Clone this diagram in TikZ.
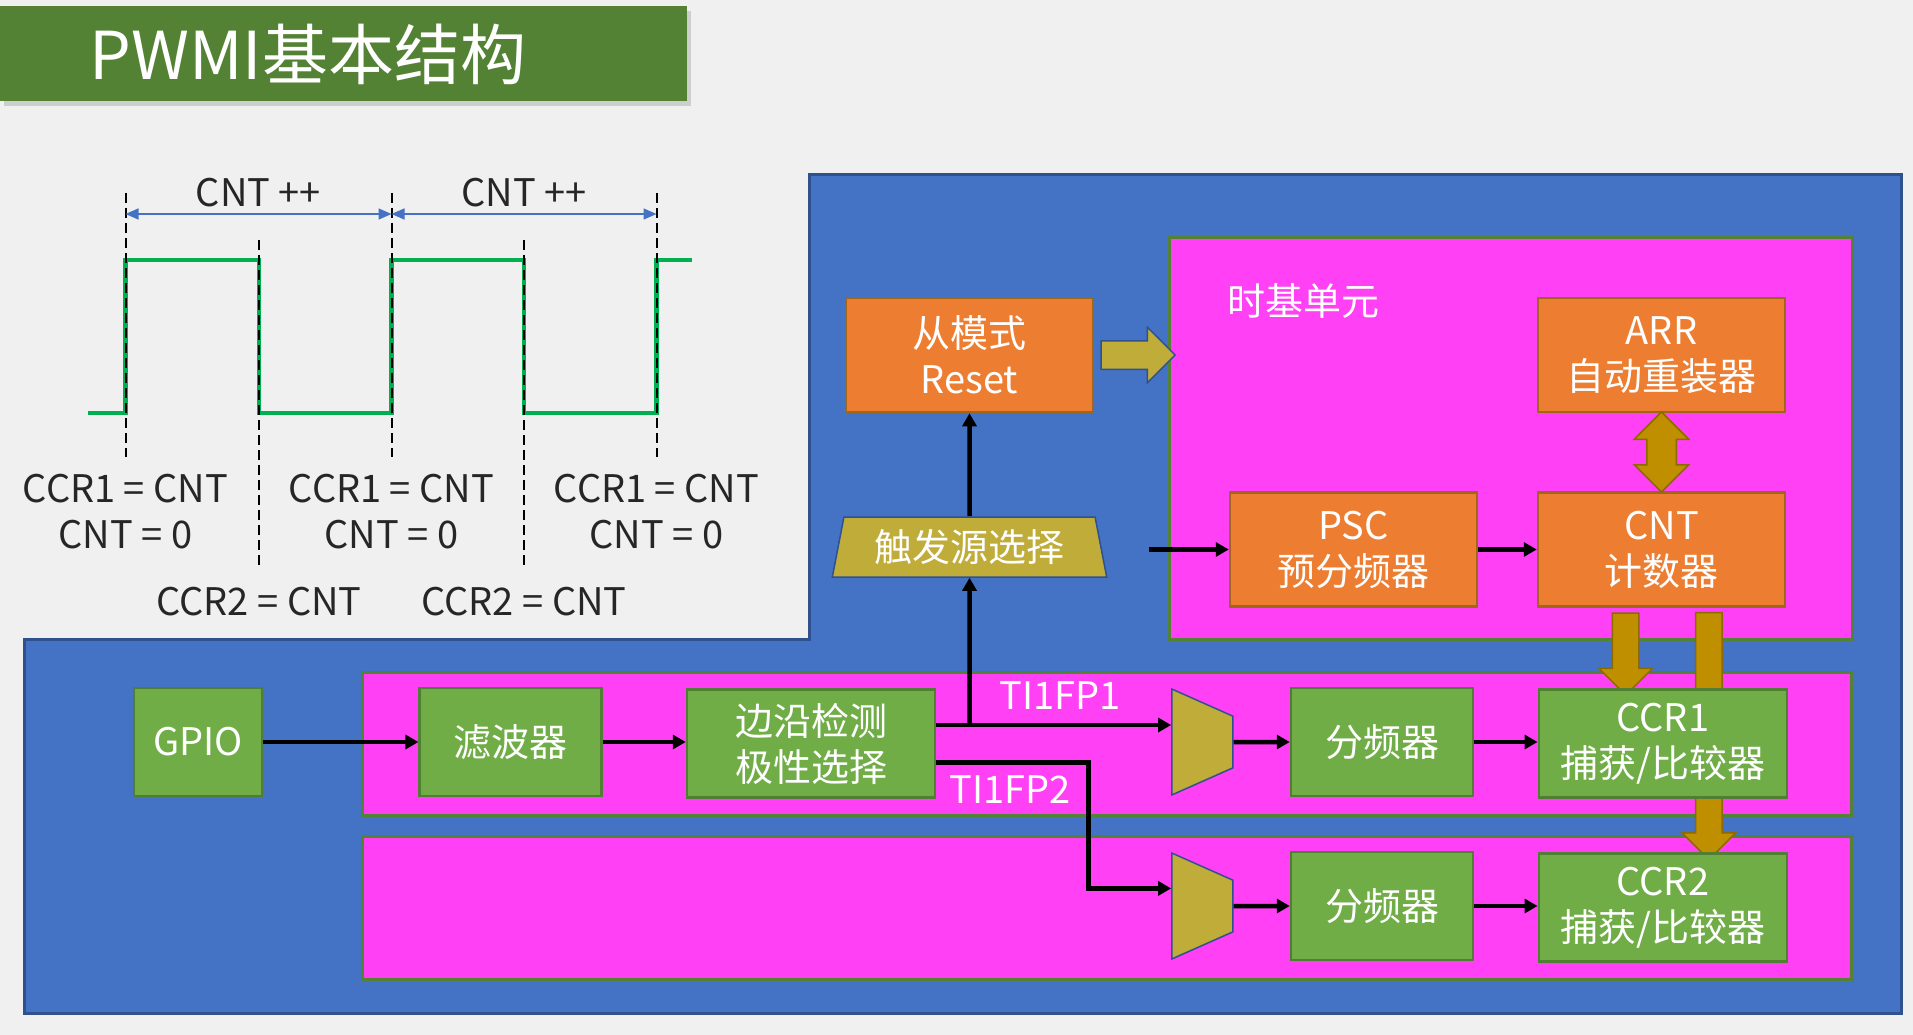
\documentclass[tikz,border=0pt]{standalone}
\usepackage{fontspec}
\setmainfont{Noto Sans CJK SC}
\usepackage{tikz}
\usetikzlibrary{arrows.meta,positioning,shapes.geometric,shapes.arrows,shadows,calc}

\definecolor{slidebg}{HTML}{F0F0F0}
\definecolor{bluebg}{HTML}{4472C4}
\definecolor{blueline}{HTML}{2F528F}
\definecolor{pinkbg}{RGB}{255,64,245}
\definecolor{pinkline}{HTML}{548235}
\definecolor{orangebox}{HTML}{ED7D31}
\definecolor{orangeline}{HTML}{A0661A}
\definecolor{greenbox}{HTML}{70AD47}
\definecolor{greenline}{HTML}{507E32}
\definecolor{olivebox}{RGB}{192,172,56}
\definecolor{goldfill}{HTML}{BF8F00}
\definecolor{goldline}{HTML}{8C6A00}
\definecolor{titlegreen}{HTML}{548235}
\definecolor{wavegreen}{HTML}{00B050}

\begin{document}
\begin{tikzpicture}[x=1pt, y=-1pt,
  every node/.style={font=\fontsize{38}{46}\selectfont},
  gbox/.style={draw=greenline, line width=2.5pt, fill=greenbox, text=white,
               minimum height=108pt, align=center, inner sep=0pt},
  obox/.style={draw=orangeline, line width=2.5pt, fill=orangebox, text=white,
               minimum width=247pt, minimum height=114pt, align=center, inner sep=0pt},
  band/.style={draw=pinkline, line width=2.5pt, fill=pinkbg, anchor=north west,
               inner sep=0pt},
  mux/.style={trapezium, trapezium left angle=76, trapezium right angle=76,
              trapezium stretches=true, draw=blueline, line width=1.5pt,
              fill=olivebox, inner sep=2pt, rotate=-90,
              minimum width=106pt, minimum height=61pt},
  goldarrow/.style={single arrow, draw=goldline, line width=1.5pt, fill=goldfill,
                    inner xsep=0pt, inner ysep=12.5pt, single arrow head extend=13.5pt},
  arrow/.style={-{Triangle[length=13pt,width=14pt]}, line width=4.5pt},
  cntarrow/.style={{Triangle[length=13pt,width=11pt]}-{Triangle[length=13pt,width=11pt]},
                   line width=1.5pt, bluebg},
  guide/.style={line width=2pt, dash pattern=on 10pt off 5pt},
  wave/.style={wavegreen, line width=4.5pt},
  lbl/.style={text=black!85, align=center},
]
\useasboundingbox (0,0) rectangle (1913,1035);
\fill[slidebg] (0,0) rectangle (1913,1035);

% title
\node[fill=titlegreen, anchor=north west, minimum width=687pt, minimum height=95pt,
      inner sep=0pt, drop shadow={shadow xshift=4pt, shadow yshift=-5pt, opacity=0.3}]
  (title) at (0,6) {};
\node[text=white, anchor=west, font=\fontsize{66}{70}\selectfont] (titletext) at (86,54)
  {PWMI基本结构};

% waveform
\draw[wave] (88,413) -- (125.5,413) -- (125.5,260) -- (259,260) -- (259,413)
  -- (391.5,413) -- (391.5,260) -- (524,260) -- (524,413) -- (656.5,413)
  -- (656.5,260) -- (692,260);
\coordinate (t0) at (125.5,214);
\coordinate (t1) at (391.5,214);
\coordinate (t2) at (656.5,214);
\draw[guide] (125.5,193) -- (125.5,457);
\draw[guide] (391.5,193) -- (391.5,457);
\draw[guide] (656.5,193) -- (656.5,457);
\draw[guide] (259,240) -- (259,567);
\draw[guide] (524,240) -- (524,567);
\draw[cntarrow] (t0) -- node[lbl, above=3pt] {CNT ++} (t1);
\draw[cntarrow] (t1) -- node[lbl, above=3pt] {CNT ++} (t2);
\node[lbl] (eq1) at (125.5,511.5) {CCR1 = CNT\\CNT = 0};
\node[lbl] (eq2) at (391.5,511.5) {CCR1 = CNT\\CNT = 0};
\node[lbl] (eq3) at (656.5,511.5) {CCR1 = CNT\\CNT = 0};
\node[lbl] (eq4) at (259,602) {CCR2 = CNT};
\node[lbl] (eq5) at (524,602) {CCR2 = CNT};

% timer background
\draw[fill=bluebg, draw=blueline, line width=3pt] (809,175) -- (1901.5,175)
  -- (1901.5,1013) -- (24.5,1013) -- (24.5,639) -- (809,639) -- cycle;
\node[band, minimum width=683pt, minimum height=402pt] (timebase) at (1168,236) {};
\node[band, minimum width=1489pt, minimum height=143pt] (ch1) at (361,671) {};
\node[band, minimum width=1489pt, minimum height=143pt] (ch2) at (361,835) {};
\node[text=white] (tblabel) at (1303,301) {时基单元};

% time base unit
\node[obox] (reset) at (969.5,355) {从模式\\Reset};
\node[trapezium, trapezium left angle=76, trapezium right angle=76,
      trapezium stretches=true, draw=blueline, line width=1.5pt, fill=olivebox,
      text=white, inner sep=0pt, minimum width=275pt, minimum height=60pt]
  (trig) at (969.5,547) {触发源选择};
\node[obox] (arr) at (1661.5,355) {ARR\\自动重装器};
\node[obox] (psc) at (1353.5,549.5) {PSC\\预分频器};
\node[obox] (cnt) at (1661.5,549.5) {CNT\\计数器};
\node[goldarrow, draw=blueline, fill=olivebox, inner ysep=13.5pt,
      minimum height=74pt] (slave) at (1131,355) {};
\node[double arrow, draw=goldline, line width=1.5pt, fill=goldfill, inner xsep=0pt,
      inner ysep=14pt, double arrow head extend=12.5pt, minimum height=80pt,
      rotate=90] (reload) at (1661.5,452) {};
\node[goldarrow, minimum height=247pt, rotate=-90] (cap2) at (1708.9,729.5) {};
\node[goldarrow, minimum height=82pt, rotate=-90] (cap1) at (1625.7,647.5) {};

% input channels
\node[gbox, minimum width=128pt] (gpio) at (198,742) {GPIO};
\node[gbox, minimum width=182pt] (filter) at (510.7,742) {滤波器};
\node[gbox, minimum width=248pt] (edge) at (811,743.5) {边沿检测\\极性选择};
\node[mux] (mux1) at (1202.4,742) {\phantom{I}};
\node[gbox, minimum width=182pt] (div1) at (1382,742) {分频器};
\node[gbox, minimum width=248pt] (ccr1) at (1662.8,743.5) {CCR1\\捕获/比较器};
\node[mux] (mux2) at (1202.4,906) {\phantom{I}};
\node[gbox, minimum width=182pt] (div2) at (1382,906) {分频器};
\node[gbox, minimum width=248pt] (ccr2) at (1662.8,907.5) {CCR2\\捕获/比较器};

% connections
\coordinate (pscin) at ($(psc.west)+(-80,0)$);
\coordinate (fp1) at ($(edge.east)+(0,-18.5)$);
\coordinate (fp2) at ($(edge.east)+(0,19.2)$);
\draw[arrow] (gpio) -- (filter);
\draw[arrow] (filter) -- (filter -| edge.west);
\draw[arrow] (fp1) -- (fp1 -| mux1.south);
\draw[arrow] (fp1 -| trig) -- (trig.south);
\draw[arrow] (trig) -- (reset);
\draw[arrow] (fp2) -- ++(152.4,0) |- ($(mux2.south)+(0,-17.6)$);
\draw[arrow] (mux1) -- (div1);
\draw[arrow] (div1) -- (div1 -| ccr1.west);
\draw[arrow] (mux2) -- (div2);
\draw[arrow] (div2) -- (div2 -| ccr2.west);
\draw[arrow] (pscin) -- (psc);
\draw[arrow] (psc) -- (cnt);
\node[text=white] (fp1label) at (1060,695.5) {TI1FP1};
\node[text=white] (fp2label) at (1010,790) {TI1FP2};
\end{tikzpicture}
\end{document}
